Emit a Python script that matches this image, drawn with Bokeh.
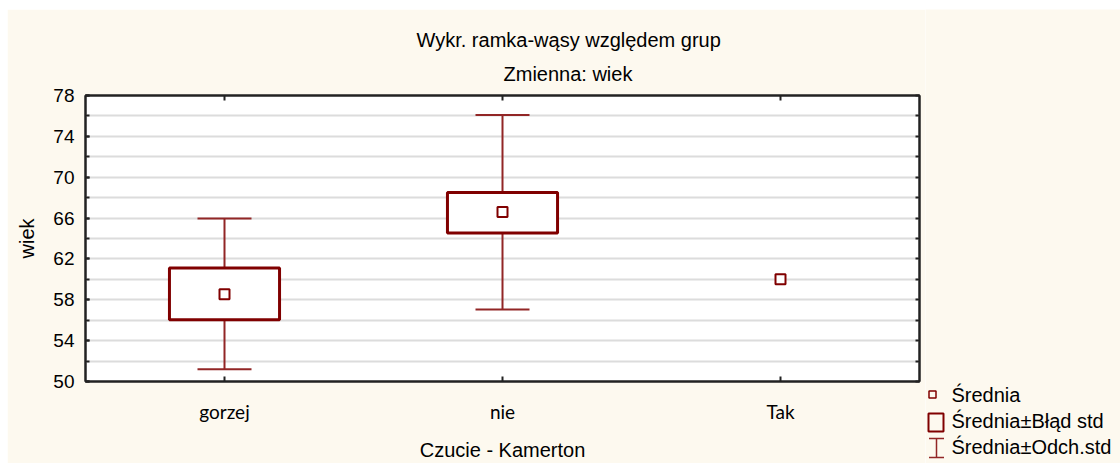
from bokeh.plotting import figure
from bokeh.layouts import row, column
from bokeh.models import (FixedTicker, LinearAxis, Range1d, Title, ColumnDataSource)
from bokeh.core.properties import value
from bokeh.embed import file_html
from bokeh.resources import INLINE

# ---- data ----
categories = ["gorzej", "nie", "Tak"]
means = [58.55, 66.6, 60.0]
se_low = [56.05, 64.55, None]
se_high = [61.1, 68.5, None]
sd_low = [51.2, 57.05, None]
sd_high = [65.95, 76.1, None]

title_1 = "Wykr. ramka-wąsy względem grup"
title_2 = "Zmienna:  wiek"
x_title = "Czucie - Kamerton"
y_title = "wiek"
legend_labels = ["Średnia", "Średnia±Błąd std", "Średnia±Odch.std"]
y_major = [50, 54, 58, 62, 66, 70, 74, 78]
y_minor = list(range(50, 80, 2))

# ---- styles ----
CREAM = "#FDF9EF"
DARK = "#800000"
WHISK = "#922626"
AXIS = "#222222"
FONT = "Liberation Sans"

xs = [i + 0.5 for i in range(len(categories))]
box_idx = [i for i in range(len(categories)) if se_low[i] is not None]
box_src = ColumnDataSource(dict(
    x=[xs[i] for i in box_idx],
    se_lo=[se_low[i] for i in box_idx], se_hi=[se_high[i] for i in box_idx],
    sd_lo=[sd_low[i] for i in box_idx], sd_hi=[sd_high[i] for i in box_idx],
))
mean_src = ColumnDataSource(dict(x=xs, m=means))

p = figure(width=918, height=454, output_backend="svg", toolbar_location=None,
           x_range=Range1d(0, 3), y_range=Range1d(50, 78),
           min_border_left=78, min_border_right=6, min_border_top=86,
           min_border_bottom=81)
p.background_fill_color = "white"
p.border_fill_color = CREAM
p.outline_line_color = AXIS
p.outline_line_width = 2

# grid
p.xgrid.visible = False
p.ygrid.ticker = FixedTicker(ticks=y_minor)
p.ygrid.grid_line_color = "#DCDCDC"
p.ygrid.grid_line_width = 2

# whiskers (mean ± sd)
p.segment(x0="x", y0="sd_lo", x1="x", y1="sd_hi", source=box_src,
          line_color=WHISK, line_width=2)
p.scatter(x="x", y="sd_hi", source=box_src, marker="dash", size=54,
          line_color=WHISK, line_width=2)
p.scatter(x="x", y="sd_lo", source=box_src, marker="dash", size=54,
          line_color=WHISK, line_width=2)
# boxes (mean ± se)
p.vbar(x="x", width=0.396, bottom="se_lo", top="se_hi", source=box_src,
       fill_color="white", line_color=DARK, line_width=3)
# means
p.scatter(x="x", y="m", source=mean_src, marker="square", size=10,
          fill_color="white", line_color=DARK, line_width=2)

# axes
yax = p.yaxis[0]
yax.ticker = FixedTicker(ticks=y_major, minor_ticks=y_minor)
yax.major_tick_in = 4
yax.major_tick_out = 0
yax.minor_tick_in = 4
yax.minor_tick_out = 0
yax.axis_line_color = AXIS
yax.axis_line_width = 2
yax.major_tick_line_color = AXIS
yax.minor_tick_line_color = AXIS
yax.major_tick_line_width = 2
yax.minor_tick_line_width = 2
yax.major_label_text_font = FONT
yax.major_label_text_font_size = "19px"
yax.major_label_text_color = "black"
yax.major_label_standoff = 11
yax.axis_label = y_title
yax.axis_label_text_font = FONT
yax.axis_label_text_font_size = "20px"
yax.axis_label_text_font_style = "normal"
yax.axis_label_text_color = "black"
yax.axis_label_standoff = 12

xax = p.xaxis[0]
xax.ticker = FixedTicker(ticks=xs, minor_ticks=[])
xax.major_label_overrides = {x: c for x, c in zip(xs, categories)}
xax.major_tick_in = 5
xax.major_tick_out = 0
xax.axis_line_color = AXIS
xax.axis_line_width = 2
xax.major_tick_line_color = AXIS
xax.major_tick_line_width = 2
xax.major_label_text_font = "Lato"
xax.major_label_text_font_size = "19px"
xax.major_label_text_color = "black"
xax.major_label_standoff = 18
xax.axis_label = x_title
xax.axis_label_text_font = FONT
xax.axis_label_text_font_size = "20px"
xax.axis_label_text_font_style = "normal"
xax.axis_label_text_color = "black"
xax.axis_label_standoff = 13

# right and top axes: inward ticks only, labels not painted
rax = LinearAxis(ticker=FixedTicker(ticks=y_minor, minor_ticks=[]),
                 major_tick_in=4, major_tick_out=0, axis_line_color=AXIS,
                 axis_line_width=2, major_tick_line_color=AXIS,
                 major_tick_line_width=2, major_label_text_font_size="1px",
                 major_label_text_color=None, major_label_standoff=0)
p.add_layout(rax, "right")
tax = LinearAxis(ticker=FixedTicker(ticks=xs, minor_ticks=[]),
                 major_tick_in=5, major_tick_out=0, axis_line_color=AXIS,
                 axis_line_width=2, major_tick_line_color=AXIS,
                 major_tick_line_width=2, major_label_text_font_size="1px",
                 major_label_text_color=None, major_label_standoff=0)
p.add_layout(tax, "above")

# titles
p.add_layout(Title(text=title_2, align="left", offset=418, text_font=FONT,
                   text_font_size="20px", text_font_style="normal",
                   text_color="black", standoff=22), "above")
p.add_layout(Title(text=title_1, align="left", offset=331, text_font=FONT,
                   text_font_size="20px", text_font_style="normal",
                   text_color="black", standoff=-3), "above")

# ---- legend panel (page-pixel coordinates) ----
leg = figure(width=195, height=454, output_backend="svg", toolbar_location=None,
             x_range=Range1d(925, 1120), y_range=Range1d(463, 9),
             min_border=0, x_axis_type=None, y_axis_type=None)
leg.background_fill_color = CREAM
leg.border_fill_color = CREAM
leg.outline_line_color = None
leg.grid.visible = False

leg.scatter(x=[932], y=[394], marker="square", size=7, fill_color=None,
            line_color=DARK, line_width=1.5)
leg.quad(left=[928], right=[943], top=[413], bottom=[431], fill_color=None,
         line_color=DARK, line_width=2)
leg.segment(x0=[936], y0=[438], x1=[936], y1=[457], line_color=WHISK, line_width=1.5)
leg.segment(x0=[928.5, 928.5], y0=[438, 457], x1=[943.5, 943.5], y1=[438, 457],
            line_color=WHISK, line_width=1.5)
leg.text(x=[951] * 3, y=[394, 420, 446], text=legend_labels,
         text_font=value(FONT), text_font_size="20px", text_color="black",
         text_baseline="alphabetic", text_align="left")

layout = row(p, column(leg, spacing=0), margin=(9, 0, 0, 7), spacing=0)
open("out.html", "w").write(file_html(layout, INLINE))
